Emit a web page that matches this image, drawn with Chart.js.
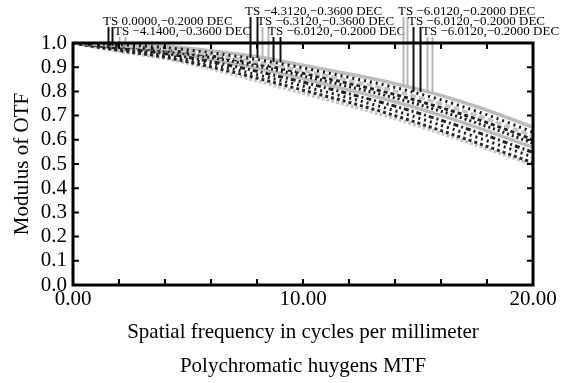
<!DOCTYPE html>
<html>
<head>
<meta charset="utf-8">
<script src="https://cdn.jsdelivr.net/npm/chart.js@4"></script>
<style>
  html, body { margin: 0; padding: 0; background: #fff; }
  #wrap { width: 576px; height: 383px; }
</style>
</head>
<body>
<div id="wrap"><canvas id="myChart"></canvas></div>
<script>
// spatial frequency samples (cycles/mm)
var freq = [0, 2, 4, 6, 8, 10, 12, 14, 16, 18, 20];

// MTF curves, top of the band to the bottom
var mtfA = [1.0, 0.996, 0.987, 0.968, 0.943, 0.908, 0.872, 0.832, 0.783, 0.722, 0.652];
var mtfB = [1.0, 0.993, 0.981, 0.960, 0.932, 0.897, 0.858, 0.816, 0.765, 0.703, 0.632];
var mtfC = [1.0, 0.990, 0.976, 0.953, 0.922, 0.885, 0.845, 0.801, 0.748, 0.686, 0.615];
var mtfD = [1.0, 0.988, 0.972, 0.947, 0.914, 0.875, 0.833, 0.787, 0.733, 0.671, 0.601];
var mtfE = [1.0, 0.985, 0.967, 0.940, 0.905, 0.864, 0.820, 0.773, 0.718, 0.655, 0.586];
var mtfF = [1.0, 0.982, 0.962, 0.932, 0.895, 0.852, 0.806, 0.757, 0.701, 0.637, 0.568];
var mtfG = [1.0, 0.978, 0.956, 0.923, 0.883, 0.838, 0.790, 0.739, 0.681, 0.617, 0.548];
var mtfH = [1.0, 0.974, 0.949, 0.913, 0.869, 0.822, 0.773, 0.720, 0.660, 0.596, 0.528];
var mtfI = [1.0, 0.969, 0.941, 0.901, 0.855, 0.805, 0.755, 0.700, 0.638, 0.573, 0.505];
var mtfJ = [1.0, 0.966, 0.936, 0.893, 0.844, 0.792, 0.742, 0.688, 0.627, 0.563, 0.497];

// field labels and where their T / S marks sit on the curves
var fieldLabels = ['TS 0.0000,\u22120.2000 DEC', 'TS \u22124.1400,\u22120.3600 DEC', 'TS \u22124.3120,\u22120.3600 DEC',
    'TS \u22126.3120,\u22120.3600 DEC', 'TS \u22126.0120,\u22120.2000 DEC', 'TS \u22126.0120,\u22120.2000 DEC',
    'TS \u22126.0120,\u22120.2000 DEC', 'TS \u22126.0120,\u22120.2000 DEC'];
var markT = [1.52, 2.00, 7.70, 8.22, 8.70, 14.35, 14.78, 15.39];
var markS = [1.70, 2.26, 8.00, 8.48, 9.00, 14.52, 15.09, 15.61];
var markMtf = [0.988, 0.980, 0.938, 0.930, 0.920, 0.818, 0.798, 0.793];

var xTickLabels = [0, 10, 20];

var serif = 'Liberation Serif, Times New Roman, serif';

var curves = [mtfA, mtfB, mtfC, mtfD, mtfE, mtfF, mtfG, mtfH, mtfI, mtfJ];
// gray solid lines behind, black dotted/dashed ones over them
var looks = [
    {c: '#bdbdbd', w: 3.5, d: []},
    {c: '#1a1a1a', w: 3, d: [2, 4]},
    {c: '#c4c4c4', w: 3.5, d: [6, 3]},
    {c: '#222222', w: 3, d: [4, 3]},
    {c: '#1a1a1a', w: 3, d: [2, 3]},
    {c: '#bcbcbc', w: 3.5, d: []},
    {c: '#222222', w: 3, d: [5, 3, 2, 3]},
    {c: '#1a1a1a', w: 3, d: [2, 4]},
    {c: '#2a2a2a', w: 3, d: [3, 3]},
    {c: '#c8c8c8', w: 3.5, d: [3, 2]}
];

var datasets = curves.map(function(vals, i) {
    return {
        label: 'curve ' + (i + 1),
        data: vals.map(function(v, j) { return {x: freq[j], y: v}; }),
        borderColor: looks[i].c,
        borderWidth: looks[i].w,
        borderDash: looks[i].d,
        pointRadius: 0,
        fill: false,
        cubicInterpolationMode: 'monotone',
        order: looks[i].d.length ? 1 : 2
    };
});

// frame with inward ticks, plus the field marks and their labels
var framePlugin = {
    id: 'otfFrame',
    afterDatasetsDraw: function(chart) {
        var ctx = chart.ctx, a = chart.chartArea;
        var xs = chart.scales.x, ys = chart.scales.y;
        var rowY = [12, 22, 32];
        var rows = [1, 2, 0, 1, 2, 0, 1, 2];
        var dark = [true, false, true, false, true, false, true, false];
        ctx.save();
        for (var i = 0; i < fieldLabels.length; i++) {
            var top = rowY[rows[i]] + 5;
            var bot = ys.getPixelForValue(markMtf[i]);
            ctx.strokeStyle = dark[i] ? '#111' : '#b5b5b5';
            ctx.lineWidth = 2;
            [markT[i], markS[i]].forEach(function(m) {
                var px = Math.round(xs.getPixelForValue(m)) + 0.5;
                ctx.beginPath();
                ctx.moveTo(px, top);
                ctx.lineTo(px, bot);
                ctx.stroke();
            });
            ctx.fillStyle = '#000';
            ctx.font = '13px ' + serif;
            ctx.textBaseline = 'middle';
            ctx.textAlign = 'left';
            ctx.fillText(fieldLabels[i], xs.getPixelForValue(markT[i]) - 5, rowY[rows[i]]);
        }
        ctx.strokeStyle = '#000';
        ctx.lineWidth = 3;
        ctx.strokeRect(a.left, a.top, a.right - a.left, a.bottom - a.top);
        ctx.lineWidth = 2;
        xs.ticks.forEach(function(t, k) {
            var px = xs.getPixelForTick(k);
            ctx.beginPath();
            ctx.moveTo(px, a.bottom); ctx.lineTo(px, a.bottom - 6);
            ctx.moveTo(px, a.top); ctx.lineTo(px, a.top + 6);
            ctx.stroke();
        });
        ys.ticks.forEach(function(t, k) {
            var py = ys.getPixelForTick(k);
            ctx.beginPath();
            ctx.moveTo(a.left, py); ctx.lineTo(a.left + 6, py);
            ctx.moveTo(a.right, py); ctx.lineTo(a.right - 6, py);
            ctx.stroke();
        });
        ctx.restore();
    }
};

var chart = new Chart('myChart', {
    type: 'line',
    data: { datasets: datasets },
    options: {
        responsive: true,
        maintainAspectRatio: false,
        animation: false,
        layout: { padding: { top: 43, right: 43, left: 0, bottom: 0 } },
        plugins: {
            legend: { display: false },
            tooltip: { enabled: false }
        },
        scales: {
            x: {
                type: 'linear',
                min: 0,
                max: 20,
                grid: { display: false, drawTicks: false },
                border: { display: false },
                afterFit: function(s) { s.height = 98; },
                ticks: {
                    stepSize: 2,
                    autoSkip: false,
                    maxRotation: 0,
                    padding: 2,
                    color: '#000',
                    font: { family: serif, size: 21 },
                    callback: function(v) { return xTickLabels.indexOf(v) >= 0 ? v.toFixed(2) : ''; }
                },
                title: {
                    display: true,
                    text: ['Spatial frequency in cycles per millimeter', 'Polychromatic huygens MTF'],
                    color: '#000',
                    font: { family: serif, size: 21, lineHeight: '34px' },
                    padding: { top: 0, bottom: 0 }
                }
            },
            y: {
                min: 0,
                max: 1,
                grid: { display: false, drawTicks: false },
                border: { display: false },
                afterFit: function(s) { s.width = 73; },
                ticks: {
                    stepSize: 0.1,
                    autoSkip: false,
                    padding: 6,
                    color: '#000',
                    font: { family: serif, size: 21 },
                    callback: function(v) { return v.toFixed(1); }
                },
                title: {
                    display: true,
                    text: 'Modulus of OTF',
                    color: '#000',
                    font: { family: serif, size: 21 },
                    padding: { top: 10, bottom: 0 }
                }
            }
        }
    },
    plugins: [framePlugin]
});
</script>
</body>
</html>
